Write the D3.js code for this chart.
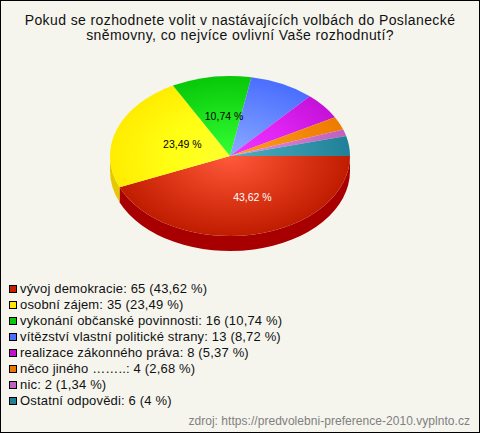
<!DOCTYPE html>
<html><head><meta charset="utf-8">
<script src="https://cdn.jsdelivr.net/npm/d3@7"></script>
<style>html,body{margin:0;padding:0;background:#fff}svg{display:block}text{font-family:"Liberation Sans",Arial,sans-serif}</style>
</head><body><svg id="c" width="480" height="433"></svg>
<script>
const titleLines = ["Pokud se rozhodnete volit v nastávajících volbách do Poslanecké","sněmovny, co nejvíce ovlivní Vaše rozhodnutí?"];
const categories = ["vývoj demokracie","osobní zájem","vykonání občanské povinnosti","vítězství vlastní politické strany","realizace zákonného práva","něco jiného ……..","nic","Ostatní odpovědi"];
const values = [65,35,16,13,8,4,2,6];
const percents = ["43,62","23,49","10,74","8,72","5,37","2,68","1,34","4"];
const legendColors = ["#c81e00","#ffe800","#0cc80c","#4a70ff","#c010d0","#e87800","#c060c0","#208098"];
const centerColors = ["#ff5a3c","#ffff30","#33ff33","#8caaff","#f038ff","#ffa020","#e090e0","#50b0c0"];
const midColors = ["#e03a1a","#ffff14","#1ee41e","#6a8cff","#e024f4","#f68c10","#d078d0","#3898ac"];
const edgeColors = ["#c01c00","#ffec00","#08c808","#4a6eff","#c412d8","#ec7c00","#c060c0","#208098"];
const sideColors = ["#a80000","#e6c800"];
const source = "zdroj: https://predvolebni-preference-2010.vyplnto.cz";

const svg = d3.select("#c");
svg.append("rect").attr("x",0.5).attr("y",0.5).attr("width",479).attr("height",432)
  .attr("fill","#f5f5ee").attr("stroke","#000");
svg.append("rect").attr("x",0).attr("y",432).attr("width",480).attr("height",1).attr("fill","#000");

svg.selectAll("text.t").data(titleLines).join("text").attr("class","t")
  .attr("x",240).attr("y",(d,i)=>25+i*15).attr("text-anchor","middle")
  .attr("font-size",14).attr("letter-spacing",0.4).attr("fill","#111").text(d=>d);

const cx=230, cy=156, rx=120, ry=80, depth=15;
const slices = d3.pie().sort(null).startAngle(Math.PI/2).endAngle(Math.PI*2.5)(values);
const arc = d3.arc().innerRadius(0).outerRadius(rx);
const defs = svg.append("defs");
values.forEach((v,i)=>{
  const g = defs.append("radialGradient").attr("id","g"+i).attr("gradientUnits","userSpaceOnUse")
    .attr("cx",0).attr("cy",0).attr("r",rx);
  g.append("stop").attr("offset",0).attr("stop-color",centerColors[i]);
  g.append("stop").attr("offset",0.5).attr("stop-color",midColors[i]);
  g.append("stop").attr("offset",1).attr("stop-color",edgeColors[i]);
});
// rim: only the front half of the ellipse is visible
const rim = (a0,a1)=>{
  const m0=a0-Math.PI/2, m1=Math.min(a1-Math.PI/2,Math.PI);
  if(m0>=Math.PI) return null;
  const p=t=>[cx+rx*Math.cos(t),cy+ry*Math.sin(t)];
  const [x0,y0]=p(m0),[x1,y1]=p(m1);
  return `M${x0},${y0}A${rx},${ry} 0 0 1 ${x1},${y1}L${x1},${y1+depth}A${rx},${ry} 0 0 0 ${x0},${y0+depth}Z`;
};
slices.forEach((d,i)=>{
  const r=rim(d.startAngle,d.endAngle);
  if(r) svg.append("path").attr("d",r).attr("fill",sideColors[i]);
});
const face = svg.append("g").attr("transform",`translate(${cx},${cy}) scale(1,${ry/rx})`);
face.selectAll("path").data(slices).join("path").attr("d",arc).attr("fill",(d,i)=>`url(#g${i})`);

const labelled=[0,1,2];
const labelDx=[10.5,9,3.5], labelDy=[6,5,4];
const labelPos=d3.arc().innerRadius(rx*0.5).outerRadius(rx*0.5);
labelled.forEach(i=>{
  const c=labelPos.centroid(slices[i]);
  svg.append("text").attr("x",cx+c[0]+labelDx[i]).attr("y",cy+c[1]*ry/rx+labelDy[i]).attr("text-anchor","middle")
    .attr("font-size",10.5).attr("fill",i===0?"#fff":"#000").text(percents[i]+" %");
});

const leg = svg.append("g").selectAll("g").data(categories).join("g")
  .attr("transform",(d,i)=>`translate(0,${290+i*16})`);
leg.append("rect").attr("x",9.5).attr("y",-4.5).attr("width",7).attr("height",7)
  .attr("fill",(d,i)=>legendColors[i]).attr("stroke","#000");
leg.append("text").attr("x",20).attr("y",3).attr("font-size",13).attr("letter-spacing",0.17).attr("fill","#111")
  .text((d,i)=>`${d}: ${values[i]} (${percents[i]} %)`);

svg.append("text").attr("x",470).attr("y",425).attr("text-anchor","end").attr("font-size",12)
  .attr("letter-spacing",0.04).attr("fill","#808080").text(source);
</script></body></html>
